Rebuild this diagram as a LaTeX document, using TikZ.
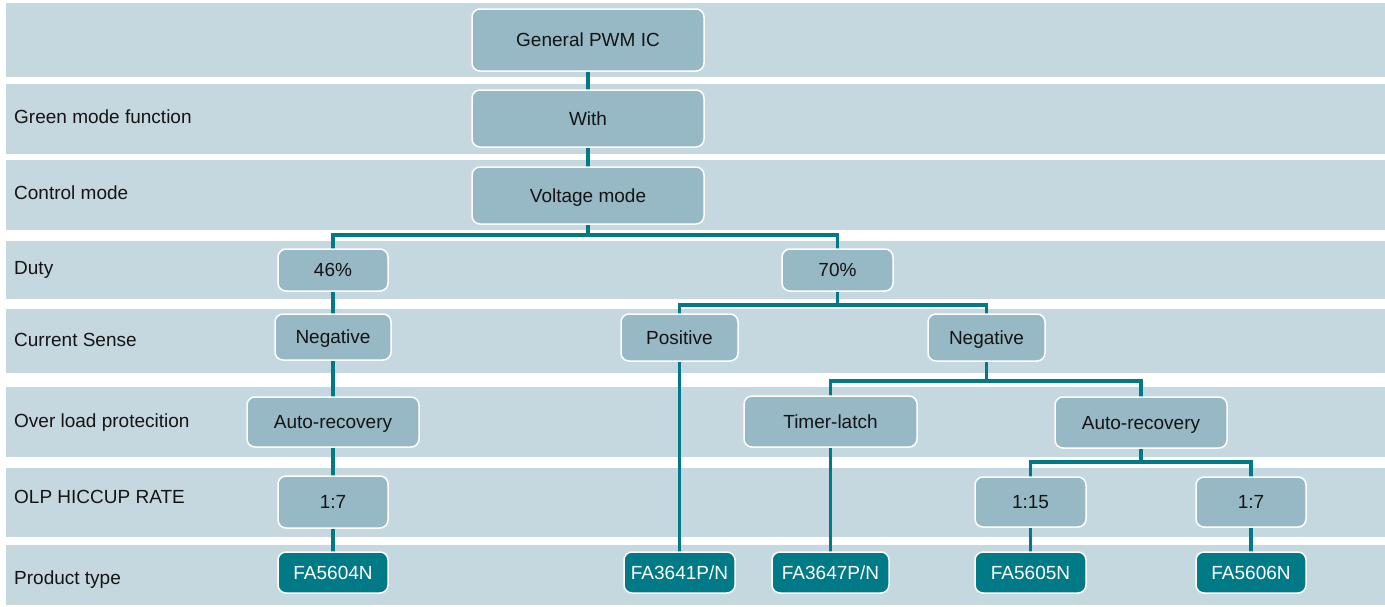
\documentclass[tikz,border=0pt]{standalone}
\usepackage{fontspec}
\setmainfont{Liberation Sans}
\definecolor{band}{HTML}{C6D8DF}
\definecolor{boxfill}{HTML}{97B9C5}
\definecolor{teal}{HTML}{007A87}
\definecolor{ink}{HTML}{141414}
\begin{document}
\begin{tikzpicture}[x=1pt,y=-1pt,
  bandrect/.style={fill=band,draw=none},
  lab/.style={anchor=west,inner sep=0pt,text height=13.6pt,text depth=0pt,text=ink,font=\fontsize{19}{22}\selectfont},
  catbox/.style={draw=white,line width=1.5pt,fill=boxfill,rounded corners=8pt,inner sep=0pt,text height=13.6pt,text depth=0pt,text=ink,font=\fontsize{19}{22}\selectfont},
  prodbox/.style={draw=white,line width=1.5pt,fill=teal,rounded corners=8pt,inner sep=0pt,text height=13.6pt,text depth=0pt,text=white,font=\fontsize{19}{22}\selectfont},
  link/.style={draw=teal,line width=3.4pt}]
\useasboundingbox (0,0) rectangle (1385,606);
\fill[white] (0,0) rectangle (1385,606);
% bands
\fill[bandrect] (6,3) rectangle (1385,77);
\fill[bandrect] (6,84) rectangle (1385,154);
\fill[bandrect] (6,160) rectangle (1385,230);
\fill[bandrect] (6,241) rectangle (1385,299);
\fill[bandrect] (6,309) rectangle (1385,373);
\fill[bandrect] (6,387) rectangle (1385,457);
\fill[bandrect] (6,468) rectangle (1385,537);
\fill[bandrect] (6,545) rectangle (1385,605);
% row labels
\node[lab] (l1) at (14,117) {Green mode function};
\node[lab] (l2) at (14,193) {Control mode};
\node[lab] (l3) at (14,268) {Duty};
\node[lab] (l4) at (14,340) {Current Sense};
\node[lab] (l5) at (14,421) {Over load protecition};
\node[lab] (l6) at (14,497) {OLP HICCUP RATE};
\node[lab] (l7) at (14,578) {Product type};
% connectors (behind nodes)
\coordinate (cgen) at (588,40);
\coordinate (cwith) at (588,118.5);
\coordinate (cvolt) at (588,195.5);
\coordinate (c46) at (333,270);
\coordinate (c70) at (837.5,270);
\coordinate (cneg1) at (333,337);
\coordinate (cpos) at (679.5,337.5);
\coordinate (cneg2) at (986.5,337.5);
\coordinate (car1) at (333,422);
\coordinate (ctl) at (830.5,421.5);
\coordinate (car2) at (1141,422.5);
\coordinate (cr1) at (333,502);
\coordinate (cr15) at (1030.5,502);
\coordinate (cr7) at (1251,502);
\coordinate (cp1) at (333,572.5);
\coordinate (cp2) at (679.5,572.5);
\coordinate (cp3) at (830.5,572.5);
\coordinate (cp4) at (1030.5,572.5);
\coordinate (cp5) at (1251,572.5);
\draw[link] (cgen) -- (cwith);
\draw[link] (cwith) -- (cvolt);
\draw[link] (cvolt) |- (c46 |- 0,235) -- (c46);
\draw[link] (cvolt) |- (c70 |- 0,235) -- (c70);
\draw[link] (c46) -- (cneg1);
\draw[link] (cneg1) -- (car1);
\draw[link] (car1) -- (cr1);
\draw[link] (cr1) -- (cp1);
\draw[link] (c70) |- (cpos |- 0,305) -- (cpos);
\draw[link] (c70) |- (cneg2 |- 0,305) -- (cneg2);
\draw[link] (cpos) -- (cp2);
\draw[link] (cneg2) |- (ctl |- 0,381) -- (ctl);
\draw[link] (cneg2) |- (car2 |- 0,381) -- (car2);
\draw[link] (ctl) -- (cp3);
\draw[link] (car2) |- (cr15 |- 0,462) -- (cr15);
\draw[link] (car2) |- (cr7 |- 0,462) -- (cr7);
\draw[link] (cr15) -- (cp4);
\draw[link] (cr7) -- (cp5);
% nodes
\node[catbox,minimum width=232pt,minimum height=62pt] (gen) at (cgen) {General PWM IC};
\node[catbox,minimum width=232pt,minimum height=57pt] (with) at (cwith) {With};
\node[catbox,minimum width=232pt,minimum height=57pt] (volt) at (cvolt) {Voltage mode};
\node[catbox,minimum width=110pt,minimum height=42pt] (d46) at (c46) {46\%};
\node[catbox,minimum width=111pt,minimum height=42pt] (d70) at (c70) {70\%};
\node[catbox,minimum width=116pt,minimum height=46pt] (neg1) at (cneg1) {Negative};
\node[catbox,minimum width=117pt,minimum height=47pt] (pos) at (cpos) {Positive};
\node[catbox,minimum width=117pt,minimum height=47pt] (neg2) at (cneg2) {Negative};
\node[catbox,minimum width=172pt,minimum height=50pt] (ar1) at (car1) {Auto-recovery};
\node[catbox,minimum width=173pt,minimum height=51pt] (tl) at (ctl) {Timer-latch};
\node[catbox,minimum width=172pt,minimum height=51pt] (ar2) at (car2) {Auto-recovery};
\node[catbox,minimum width=110pt,minimum height=52pt] (r1) at (cr1) {1:7};
\node[catbox,minimum width=111pt,minimum height=50pt] (r15) at (cr15) {1:15};
\node[catbox,minimum width=110pt,minimum height=50pt] (r7) at (cr7) {1:7};
\node[prodbox,minimum width=110pt,minimum height=41pt] (p1) at (cp1) {FA5604N};
\node[prodbox,minimum width=111pt,minimum height=41pt] (p2) at (cp2) {FA3641P/N};
\node[prodbox,minimum width=117pt,minimum height=41pt] (p3) at (cp3) {FA3647P/N};
\node[prodbox,minimum width=111pt,minimum height=41pt] (p4) at (cp4) {FA5605N};
\node[prodbox,minimum width=110pt,minimum height=41pt] (p5) at (cp5) {FA5606N};
\end{tikzpicture}
\end{document}
